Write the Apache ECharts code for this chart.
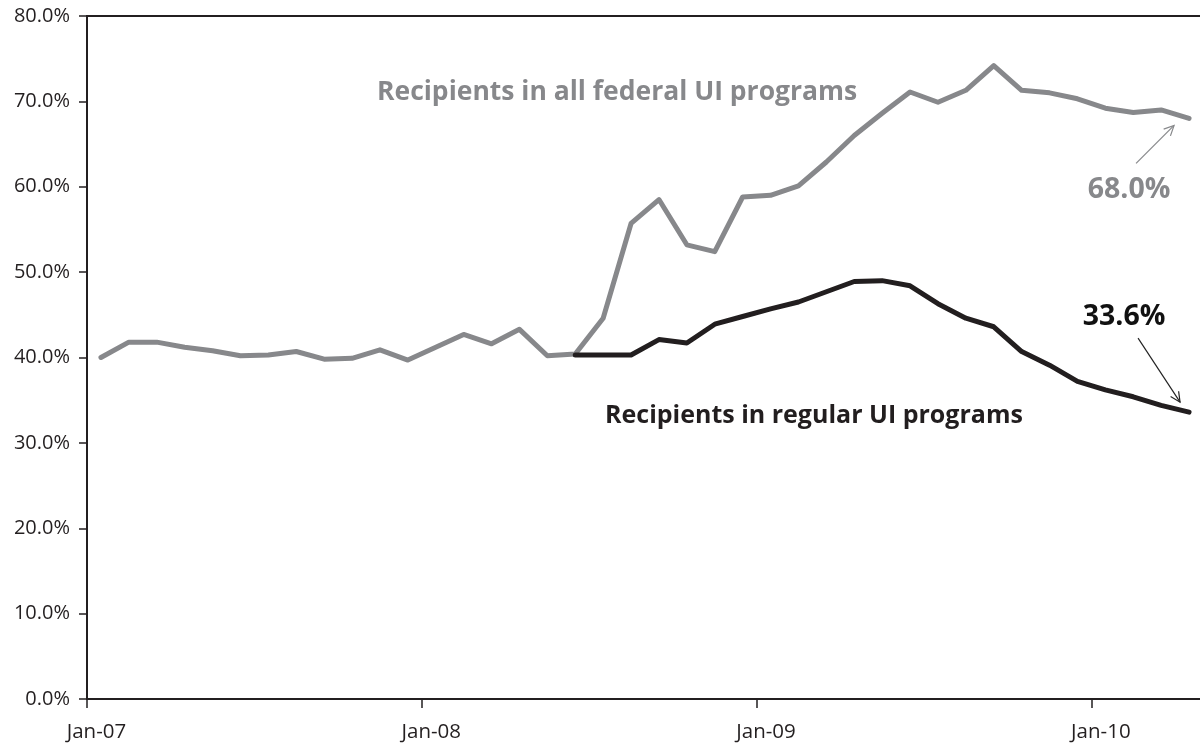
<!DOCTYPE html>
<html>
<head>
<meta charset="utf-8">
<script src="https://cdn.jsdelivr.net/npm/echarts@6/dist/echarts.min.js"></script>
<style>
  html, body { margin: 0; padding: 0; background: #ffffff; }
  #chart { width: 1200px; height: 746px; }
</style>
</head>
<body>
<div id="chart"></div>
<script>
// Monthly share of unemployed workers receiving UI benefits, Jan 2007 - Apr 2010
const months = [
  'Jan-07','Feb-07','Mar-07','Apr-07','May-07','Jun-07','Jul-07','Aug-07','Sep-07','Oct-07','Nov-07','Dec-07',
  'Jan-08','Feb-08','Mar-08','Apr-08','May-08','Jun-08','Jul-08','Aug-08','Sep-08','Oct-08','Nov-08','Dec-08',
  'Jan-09','Feb-09','Mar-09','Apr-09','May-09','Jun-09','Jul-09','Aug-09','Sep-09','Oct-09','Nov-09','Dec-09',
  'Jan-10','Feb-10','Mar-10','Apr-10'
];

// Recipients in all federal UI programs (%)
const allFederal = [
  40.0, 41.8, 41.8, 41.2, 40.8, 40.2, 40.3, 40.7, 39.8, 39.9, 40.9, 39.7,
  41.2, 42.7, 41.6, 43.3, 40.2, 40.4, 44.6, 55.7, 58.5, 53.2, 52.4, 58.8,
  59.0, 60.1, 62.9, 66.0, 68.6, 71.1, 69.9, 71.3, 74.2, 71.3, 71.0, 70.3,
  69.2, 68.7, 69.0, 68.0
];

// Recipients in regular UI programs (%), shown once it separates from the total
const regular = [
  null, null, null, null, null, null, null, null, null, null, null, null,
  null, null, null, null, null, 40.3, 40.3, 40.3, 42.1, 41.7, 43.9, 44.8,
  45.7, 46.5, 47.7, 48.9, 49.0, 48.4, 46.3, 44.6, 43.6, 40.7, 39.1, 37.2,
  36.2, 35.4, 34.4, 33.6
];

const yTicks = { min: 0, max: 80, step: 10 };

const GRAY = '#87888b';
const BLACK = '#221e1f';
const AXIS = '#231f20';
const FONT = '"Open Sans", "Noto Sans", sans-serif';

const chart = echarts.init(document.getElementById('chart'), null, { renderer: 'canvas' });

chart.setOption({
  animation: false,
  backgroundColor: '#ffffff',
  grid: {
    left: 87, right: -3, top: 16, bottom: 47,
    containLabel: false,
    outerBoundsMode: 'none',
    show: true,
    borderColor: AXIS,
    borderWidth: 2,
    backgroundColor: 'transparent'
  },
  xAxis: {
    type: 'category',
    data: months,
    boundaryGap: true,
    axisLine: { show: true, lineStyle: { color: AXIS, width: 2 } },
    axisTick: { show: true, interval: 11, length: 9, lineStyle: { color: AXIS, width: 1.5 } },
    axisLabel: {
      interval: 11,
      margin: 23,
      color: AXIS,
      fontFamily: FONT,
      fontSize: 20.5,
      padding: [0, 9, 0, 0]
    },
    splitLine: { show: false }
  },
  yAxis: {
    type: 'value',
    min: yTicks.min,
    max: yTicks.max,
    interval: yTicks.step,
    axisLine: { show: true, lineStyle: { color: AXIS, width: 2 } },
    axisTick: { show: true, length: 8, lineStyle: { color: AXIS, width: 1.5 } },
    axisLabel: {
      margin: 17,
      color: AXIS,
      fontFamily: FONT,
      fontSize: 20,
      formatter: v => v.toFixed(1) + '%'
    },
    splitLine: { show: false }
  },
  series: [
    {
      name: 'Recipients in all federal UI programs',
      type: 'line',
      data: allFederal,
      symbol: 'none',
      lineStyle: { color: GRAY, width: 5, cap: 'round', join: 'round' },
      z: 2
    },
    {
      name: 'Recipients in regular UI programs',
      type: 'line',
      data: regular,
      symbol: 'none',
      connectNulls: false,
      lineStyle: { color: BLACK, width: 5, cap: 'round', join: 'round' },
      z: 3
    }
  ]
});

// Annotations: series names, end values and pointer arrows
function arrow(from, to, color) {
  const dx = to[0] - from[0], dy = to[1] - from[1];
  const ang = Math.atan2(dy, dx);
  const len = 11, spread = 0.45;
  const a1 = [to[0] - len * Math.cos(ang - spread), to[1] - len * Math.sin(ang - spread)];
  const a2 = [to[0] - len * Math.cos(ang + spread), to[1] - len * Math.sin(ang + spread)];
  return [
    { type: 'line', shape: { x1: from[0], y1: from[1], x2: to[0], y2: to[1] },
      style: { stroke: color, lineWidth: 1.2 }, z: 10 },
    { type: 'polyline', shape: { points: [a1, to, a2] },
      style: { stroke: color, lineWidth: 1.2, fill: null }, z: 10 }
  ];
}

const last = months.length - 1;
const pFed = chart.convertToPixel({ xAxisIndex: 0, yAxisIndex: 0 }, [last, allFederal[last]]);
const pReg = chart.convertToPixel({ xAxisIndex: 0, yAxisIndex: 0 }, [last, regular[last]]);

chart.setOption({
  graphic: [
    { type: 'text', x: 377, y: 92, z: 10,
      style: { text: 'Recipients in all federal UI programs', fill: GRAY,
               font: 'bold 26.5px ' + FONT, align: 'left', verticalAlign: 'middle' } },
    { type: 'text', x: 605, y: 416, z: 10,
      style: { text: 'Recipients in regular UI programs', fill: BLACK,
               font: 'bold 25px ' + FONT, align: 'left', verticalAlign: 'middle' } },
    { type: 'text', x: pFed[0] - 60, y: pFed[1] + 71, z: 10,
      style: { text: allFederal[last].toFixed(1) + '%', fill: GRAY, font: 'bold 28.5px ' + FONT,
               align: 'center', verticalAlign: 'middle' } },
    { type: 'text', x: pReg[0] - 65, y: pReg[1] - 95, z: 10,
      style: { text: regular[last].toFixed(1) + '%', fill: '#111111', font: 'bold 28.5px ' + FONT,
               align: 'center', verticalAlign: 'middle' } },
    ...arrow([pFed[0] - 53, pFed[1] + 45], [pFed[0] - 15, pFed[1] + 7], GRAY),
    ...arrow([pReg[0] - 51, pReg[1] - 74], [pReg[0] - 9, pReg[1] - 10], '#222222')
  ]
});
</script>
</body>
</html>
